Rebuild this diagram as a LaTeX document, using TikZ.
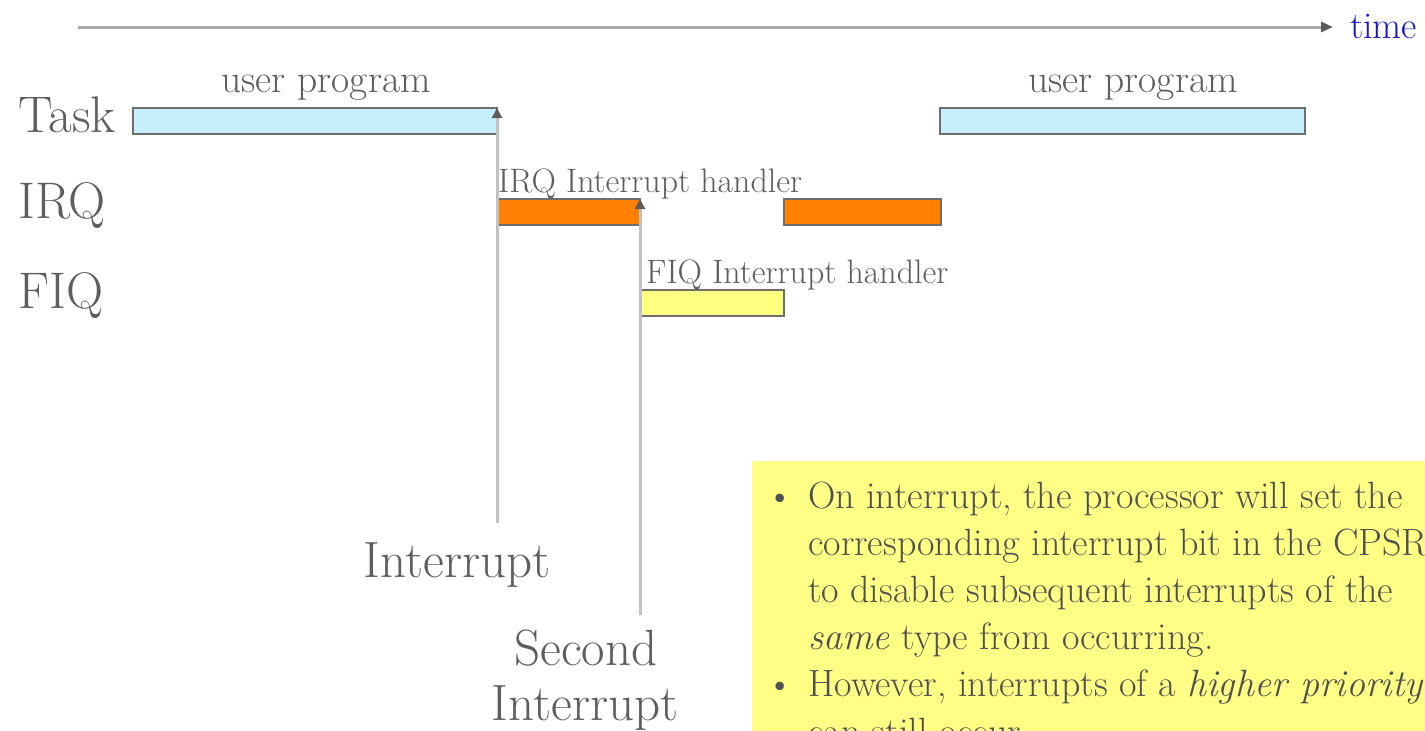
\documentclass[tikz,border=0pt]{standalone}
\usetikzlibrary{arrows.meta}

\definecolor{txtgray}{HTML}{5E5E5E}
\definecolor{notetxt}{HTML}{505050}
\definecolor{barline}{HTML}{6E6E6E}
\definecolor{taskfill}{HTML}{C6EEFD}
\definecolor{irqfill}{HTML}{FF8000}
\definecolor{fiqfill}{HTML}{FFFF80}
\definecolor{notefill}{HTML}{FFFF85}
\definecolor{axisgray}{HTML}{A8A8A8}
\definecolor{stemgray}{HTML}{C2C2C2}
\definecolor{headgray}{HTML}{5C5C5C}
\definecolor{timeblue}{HTML}{1414CC}

\begin{document}
\begin{tikzpicture}[x=1pt,y=-1pt,
  bar/.style={draw=barline, line width=2pt, inner sep=0pt, outer sep=0pt,
    anchor=north west, minimum height=26pt},
  taskbar/.style={bar, fill=taskfill},
  irqbar/.style={bar, fill=irqfill},
  fiqbar/.style={bar, fill=fiqfill},
  lbl/.style={inner sep=0pt, text=txtgray},
  rowlbl/.style={lbl, anchor=base west, font=\fontsize{51.5}{60}\selectfont},
  biglbl/.style={lbl, anchor=base, font=\fontsize{51}{60}\selectfont},
  barlbl/.style={lbl, font=\fontsize{39.5}{47}\selectfont},
  handlerlbl/.style={lbl, anchor=base west, font=\fontsize{33.9}{40}\selectfont},
  axisline/.style={draw=axisgray, line width=3pt,
    -{Triangle[length=12pt,width=10pt,color=headgray]}},
  intarrow/.style={draw=stemgray, line width=3pt,
    -{Triangle[length=10pt,width=10pt,color=headgray]}},
]
\clip (0,0) rectangle (1425,731);

% time axis
\node[inner sep=0pt, anchor=base west, text=timeblue,
  font=\fontsize{37.6}{45}\selectfont] (timelbl) at (1350,38) {time};
\coordinate (axstart) at (78,27);
\coordinate (axend) at (1333,27);
\draw[axisline] (axstart) -- (axend);

% row labels
\node[rowlbl] (tasklbl) at (18,132) {Task};
\node[rowlbl] (irqlbl) at (18,218) {IRQ};
\node[rowlbl] (fiqlbl) at (18,308) {FIQ};

% execution bars
\node[taskbar, minimum width=364pt] (task1) at (133,108) {};
\node[taskbar, minimum width=365pt] (task2) at (940,108) {};
\node[irqbar, minimum width=143pt] (irq1) at (497,199) {};
\node[irqbar, minimum width=157pt] (irq2) at (784,199) {};
\node[fiqbar, minimum width=143pt] (fiq1) at (641,290) {};

% bar captions
\node[barlbl, anchor=base] (up1) at (326,92) {user program};
\node[barlbl, anchor=base] (up2) at (1133,92) {user program};
\node[handlerlbl] (irqh) at (498,192) {IRQ Interrupt handler};
\node[handlerlbl] (fiqh) at (646,283) {FIQ Interrupt handler};

% interrupt events
\coordinate (int1) at (497,523);
\coordinate (int2) at (640,615);
\draw[intarrow] (int1) -- (task1.north east);
\draw[intarrow] (int2) -- (irq1.north east);
\node[biglbl] (int1lbl) at (457,577) {Interrupt};
\node[biglbl] (int2lblA) at (586,665) {Second};
\node[biglbl] (int2lblB) at (585,720) {Interrupt};

% note box
\node[fill=notefill, inner sep=0pt, anchor=north west,
  minimum width=700pt, minimum height=320pt] (note) at (752,461) {};
\node[inner sep=0pt, anchor=base west, text=notetxt,
  font=\fontsize{38}{47.2}\selectfont] (notetext) at (766,508) {%
  \begin{tabular}[t]{@{}p{42pt}@{}l@{}}
  \textbullet & On interrupt, the processor will set the\\
   & corresponding interrupt bit in the CPSR\\
   & to disable subsequent interrupts of the\\
   & \textit{same} type from occurring.\\
  \textbullet & However, interrupts of a \textit{higher priority}\\
   & can still occur.
  \end{tabular}};
\end{tikzpicture}
\end{document}
